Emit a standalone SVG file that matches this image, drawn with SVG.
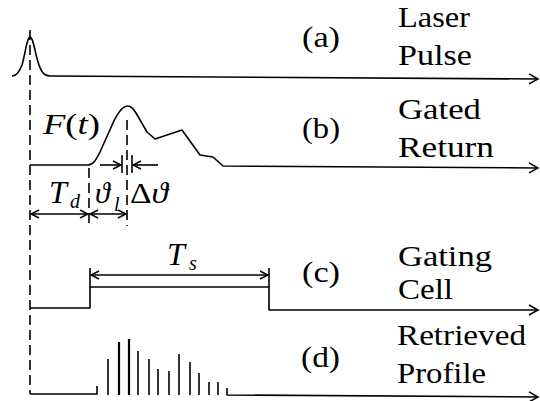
<svg xmlns="http://www.w3.org/2000/svg" width="540" height="401" viewBox="0 0 540 401">
<defs>
<marker id="ah" markerWidth="12" markerHeight="12" refX="10" refY="6" orient="auto-start-reverse" markerUnits="userSpaceOnUse"><path d="M1,1 L10,6 L1,11" fill="none" stroke="#000" stroke-width="1.5"/></marker>
<marker id="ds" markerWidth="10" markerHeight="10" refX="9" refY="5" orient="auto-start-reverse" markerUnits="userSpaceOnUse"><path d="M1,1 L9,5 L1,9" fill="none" stroke="#000" stroke-width="1.5"/></marker>
</defs>
<style>
.ln{fill:none;stroke:#000;stroke-width:1.6;stroke-linejoin:round}
.dash{fill:none;stroke:#000;stroke-width:1.6;stroke-dasharray:10 5}
.bar{stroke:#000;stroke-width:1.6}
.bar2{stroke:#000;stroke-width:2.2}
.lbl{font-size:29px;fill:#000}
.m{font-size:30px;fill:#000}
.big{font-size:32px;font-style:italic;fill:#000}
.it{font-style:italic}
.sub{font-size:20px;font-style:italic;fill:#000}
</style>
<rect width="540" height="401" fill="#fff"/>
<g id="connectors">
<path class="ln" marker-end="url(#ah)" d="M12,76 C16,76 19,73 22,65 C25,55 27,37 30,37 C33,37 35,52 38,62 C41,72 44,76 50,76 L538,79"/>
<path class="ln" marker-end="url(#ah)" d="M30,165 L88,165 C93,165 96,160 100,152 L113,123 C118,112 123,106 128,106 C131,106 133,108 136,113 L147,132 L155,139 L182,130 L200,155 L213,157 L223,166 L538,168"/>
<path class="ln" marker-end="url(#ah)" d="M30,308 L90,308 L90,287 L269,287 L269,310 L538,310"/>
<path class="ln" d="M90,268 L90,287 M269,268 L269,287"/>
<path class="ln" d="M30,394 L97,394 L97,386"/>
<path class="ln" marker-end="url(#ah)" d="M227,388 L227,395 L538,397"/>
<path class="dash" d="M30,30 L30,394"/>
<path class="dash" d="M89,168 L89,226"/>
<path class="dash" d="M127,120 L127,226"/>
<path class="ln" d="M122,155 L122,173 M132,155 L132,173"/>
<path class="ln" marker-end="url(#ds)" d="M100,165 L121,165"/>
<path class="ln" marker-end="url(#ds)" d="M158,165 L133,165"/>
<path class="ln" marker-start="url(#ds)" marker-end="url(#ds)" d="M31,214 L88,214"/>
<path class="ln" marker-start="url(#ds)" marker-end="url(#ds)" d="M90,214 L126,214"/>
<path class="ln" marker-start="url(#ds)" marker-end="url(#ds)" d="M91,275 L268,275"/>
</g>
<g id="profile-bars">
<line class="bar" x1="108" y1="395" x2="108" y2="359"/>
<line class="bar2" x1="119" y1="395" x2="119" y2="342"/>
<line class="bar2" x1="129" y1="395" x2="129" y2="339"/>
<line class="bar" x1="138" y1="395" x2="138" y2="351"/>
<line class="bar" x1="149" y1="395" x2="149" y2="359"/>
<line class="bar" x1="158" y1="395" x2="158" y2="369"/>
<line class="bar" x1="169" y1="395" x2="169" y2="371"/>
<line class="bar" x1="179" y1="395" x2="179" y2="354"/>
<line class="bar" x1="190" y1="395" x2="190" y2="362"/>
<line class="bar" x1="199" y1="395" x2="199" y2="373"/>
<line class="bar" x1="209" y1="395" x2="209" y2="382"/>
<line class="bar" x1="218" y1="395" x2="218" y2="382"/>
</g>
<g font-family="Liberation Serif">
<g id="label-a">
<text class="lbl" x="302" y="47" textLength="38" lengthAdjust="spacingAndGlyphs">(a)</text>
<text class="lbl" x="398" y="27" textLength="72" lengthAdjust="spacingAndGlyphs">Laser</text>
<text class="lbl" x="398" y="65" textLength="74" lengthAdjust="spacingAndGlyphs">Pulse</text>
</g>
<g id="label-b">
<text class="lbl" x="302" y="138" textLength="38" lengthAdjust="spacingAndGlyphs">(b)</text>
<text class="lbl" x="398" y="119" textLength="83" lengthAdjust="spacingAndGlyphs">Gated</text>
<text class="lbl" x="398" y="157" textLength="96" lengthAdjust="spacingAndGlyphs">Return</text>
</g>
<g id="label-c">
<text class="lbl" x="302" y="282" textLength="38" lengthAdjust="spacingAndGlyphs">(c)</text>
<text class="lbl" x="398" y="266" textLength="94" lengthAdjust="spacingAndGlyphs">Gating</text>
<text class="lbl" x="398" y="299" textLength="55" lengthAdjust="spacingAndGlyphs">Cell</text>
</g>
<g id="label-d">
<text class="lbl" x="301" y="367" textLength="39" lengthAdjust="spacingAndGlyphs">(d)</text>
<text class="lbl" x="397" y="345" textLength="129" lengthAdjust="spacingAndGlyphs">Retrieved</text>
<text class="lbl" x="397" y="383" textLength="89" lengthAdjust="spacingAndGlyphs">Profile</text>
</g>
<g id="math-labels">
<text class="m" x="43" y="134" textLength="57" lengthAdjust="spacingAndGlyphs"><tspan class="it">F</tspan>(<tspan class="it">t</tspan>)</text>
<text class="big" x="49" y="203">T</text>
<text class="sub" x="70" y="208">d</text>
<text class="m it" x="95" y="203">ϑ</text>
<text class="sub" x="114" y="211">l</text>
<text class="m" x="130" y="203" textLength="38" lengthAdjust="spacingAndGlyphs">Δ<tspan class="it">ϑ</tspan></text>
<text class="big" x="167" y="265">T</text>
<text class="sub" x="189" y="270">s</text>
</g>
</g>
</svg>
